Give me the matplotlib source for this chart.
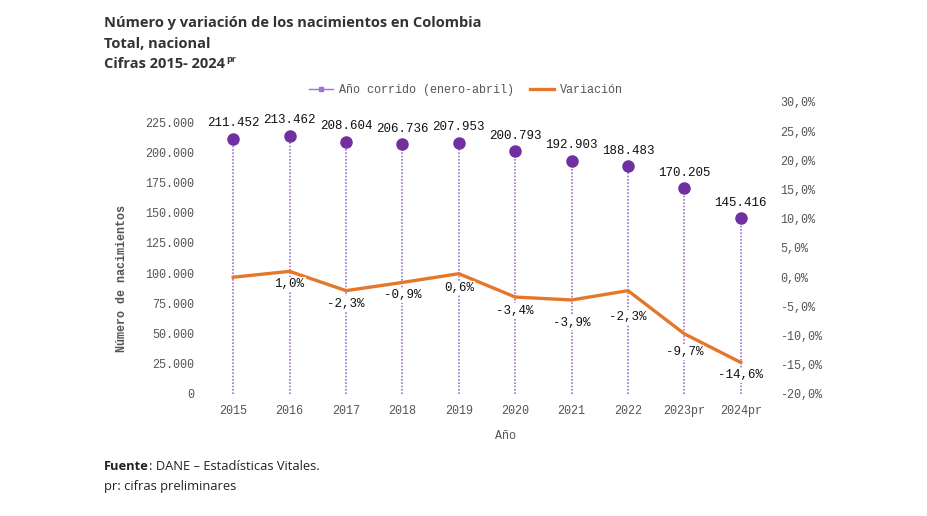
import numpy as np
import matplotlib
matplotlib.use("Agg")
import matplotlib.pyplot as plt
from matplotlib.lines import Line2D
from matplotlib.ticker import FuncFormatter, FixedLocator

# Data
anios = ["2015", "2016", "2017", "2018", "2019", "2020", "2021", "2022", "2023pr", "2024pr"]
nacimientos = [211452, 213462, 208604, 206736, 207953, 200793, 192903, 188483, 170205, 145416]
variacion = [0.0, 1.0, -2.3, -0.9, 0.6, -3.4, -3.9, -2.3, -9.7, -14.6]
etiquetas_var = [None, "1,0%", "-2,3%", "-0,9%", "0,6%", "-3,4%", "-3,9%", "-2,3%", "-9,7%", "-14,6%"]
# how far (pt) below the line each variation label sits in the original
desfase_var = [0, 5, 5, 5, 6, 5.5, 12, 15, 9, 5]

MONO = "Liberation Mono"
SANS = "Open Sans"
PURPLE = "#7030a0"
PURPLE_LIGHT = "#a070d8"
ORANGE = "#e4772a"
GREY = "#555555"

W, H = 928, 516
fig = plt.figure(figsize=(W / 100, H / 100), dpi=100)
ax = fig.add_axes([205 / W, 1 - 394 / H, 564 / W, 292 / H])
ax2 = ax.twinx()

x = np.arange(len(anios))

# stems + dots
ax.vlines(x, 0, nacimientos, colors=PURPLE_LIGHT, linestyles=(0, (1, 1)), linewidth=1.2, zorder=1)
ax.plot(x, nacimientos, "o", color=PURPLE, markersize=8, zorder=3)
for xi, v in zip(x, nacimientos):
    ax.annotate(f"{v:,}".replace(",", "."), (xi, v), xytext=(0, 7), textcoords="offset points",
                ha="center", va="bottom", fontsize=9, family=MONO, color="#111111")

ax.set_ylim(0, 241700)
ax.set_xlim(-0.5, len(anios) - 0.5)
ax.yaxis.set_major_locator(FixedLocator(np.arange(0, 225001, 25000)))
ax.yaxis.set_major_formatter(FuncFormatter(lambda v, p: f"{int(v):,}".replace(",", ".")))
ax.set_xticks(x)
ax.set_xticklabels(anios)

# variation line
ax2.plot(x, variacion, color=ORANGE, linewidth=2.4, zorder=2)
for xi, v, lab, d in zip(x, variacion, etiquetas_var, desfase_var):
    if lab:
        ax2.annotate(lab, (xi, v), xytext=(0, -d), textcoords="offset points",
                     ha="center", va="top", fontsize=9, family=MONO, color="#111111",
                     bbox=dict(boxstyle="square,pad=0.1", fc="white", ec="none"), zorder=4)
ax2.set_ylim(-20, 30)
ax2.yaxis.set_major_locator(FixedLocator(np.arange(-20, 31, 5)))
ax2.yaxis.set_major_formatter(FuncFormatter(lambda v, p: f"{v:.1f}".replace(".", ",") + "%"))

for a in (ax, ax2):
    for s in a.spines.values():
        s.set_visible(False)
    a.tick_params(length=0, labelsize=8.5, labelcolor=GREY)
    for lab in a.get_xticklabels() + a.get_yticklabels():
        lab.set_family(MONO)
ax.tick_params(axis="y", pad=8)
ax.tick_params(axis="x", pad=8)
ax2.tick_params(axis="y", pad=8)

fig.text(506 / W, 1 - 436 / H, "Año", ha="center", va="center",
         family=MONO, fontsize=8.5, color=GREY)
fig.text(122 / W, 1 - 279 / H, "Número de nacimientos", rotation=90, ha="center", va="center",
         family=MONO, fontsize=8.5, fontweight="bold", color=GREY)

# legend
handles = [
    Line2D([0], [0], color=PURPLE_LIGHT, linewidth=1, marker="s", markersize=3,
           markerfacecolor=PURPLE_LIGHT, markeredgecolor=PURPLE_LIGHT),
    Line2D([0], [0], color=ORANGE, linewidth=2.4),
]
fig.legend(handles, ["Año corrido (enero-abril)", "Variación"], loc="center",
           bbox_to_anchor=(466 / W, 1 - 90 / H), ncol=2, frameon=False,
           prop={"family": MONO, "size": 8.5}, handlelength=2.0, handletextpad=0.5,
           columnspacing=1.4, labelcolor=GREY)

# titles
renderer = fig.canvas.get_renderer()
tcolor = "#333333"
fig.text(104 / W, 1 - 27.5 / H, "Número y variación de los nacimientos en Colombia",
         family=SANS, fontsize=10.5, fontweight="bold", color=tcolor, va="baseline")
fig.text(104 / W, 1 - 48 / H, "Total, nacional",
         family=SANS, fontsize=10.5, fontweight="bold", color=tcolor, va="baseline")
t3 = fig.text(104 / W, 1 - 68.5 / H, "Cifras 2015- 2024",
              family=SANS, fontsize=10.5, fontweight="bold", color=tcolor, va="baseline")
bb = t3.get_window_extent(renderer)
fig.text(bb.x1 / W + 0.001, 1 - 62 / H, "pr", family=SANS, fontsize=6.5,
         fontweight="bold", color=tcolor, va="baseline")

# footer
f1 = fig.text(104 / W, 1 - 470 / H, "Fuente", family=SANS, fontsize=9.3,
              fontweight="bold", color="#222222", va="baseline")
bb = f1.get_window_extent(renderer)
fig.text(bb.x1 / W, 1 - 470 / H, ": DANE – Estadísticas Vitales.", family=SANS, fontsize=9.3,
         color="#222222", va="baseline")
fig.text(104 / W, 1 - 490 / H, "pr: cifras preliminares", family=SANS, fontsize=9.3,
         color="#222222", va="baseline")

fig.savefig("out.png", dpi=100)
